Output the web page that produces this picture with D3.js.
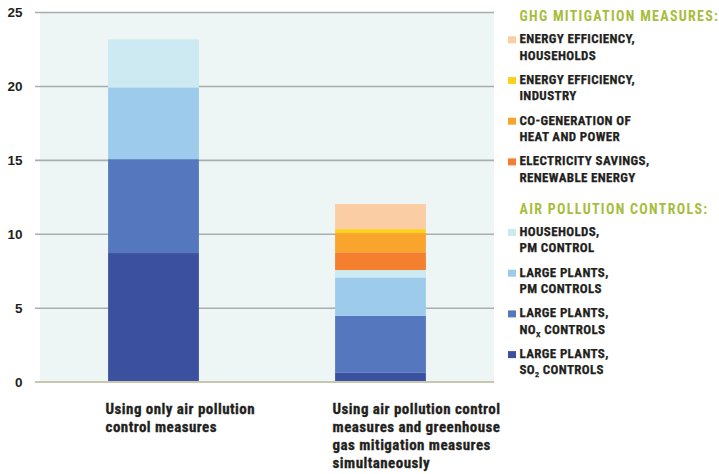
<!DOCTYPE html>
<html lang="en">
<head>
<meta charset="UTF-8">
<title>Emission reduction costs</title>
<script src="https://cdn.jsdelivr.net/npm/d3@7"></script>
<style>
  body { margin: 0; background: #fff; }
  svg { display: block; }
  .narrow { font-family: "Liberation Sans Narrow", "Arial Narrow", "Roboto Condensed", sans-serif; font-weight: bold; }
</style>
</head>
<body>
<div id="chart"></div>
<script>
const width = 719, height = 474;

// categories (x axis), each label split in lines as in the original
const categories = ["only", "combined"];
const categoryLines = [
  ["Using only air pollution", "control measures"],
  ["Using air pollution control", "measures and greenhouse", "gas mitigation measures", "simultaneously"]
];

// stack series, bottom to top
const seriesKeys = ["so2", "nox", "pmLarge", "pmHouse", "elec", "cogen", "eeInd", "eeHouse"];
const so2     = [8.7, 0.6];
const nox     = [6.35, 3.85];
const pmLarge = [4.85, 2.6];
const pmHouse = [3.25, 0.5];
const elec    = [0, 1.2];
const cogen   = [0, 1.3];
const eeInd   = [0, 0.27];
const eeHouse = [0, 1.7];

const yTicks = [0, 5, 10, 15, 20, 25];

const colors = {
  so2: "#3c50a0", nox: "#5577bd", pmLarge: "#9dcbec", pmHouse: "#cde9f1",
  elec: "#f47f2e", cogen: "#f9a42d", eeInd: "#fdd21c", eeHouse: "#fbcda4"
};

// legend groups (title + items, top to bottom)
const legendGroups = [
  { title: "GHG MITIGATION MEASURES:", items: [
    { key: "eeHouse", lines: [["ENERGY EFFICIENCY,"], ["HOUSEHOLDS"]] },
    { key: "eeInd",   lines: [["ENERGY EFFICIENCY,"], ["INDUSTRY"]] },
    { key: "cogen",   lines: [["CO-GENERATION OF"], ["HEAT AND POWER"]] },
    { key: "elec",    lines: [["ELECTRICITY SAVINGS,"], ["RENEWABLE ENERGY"]] }
  ]},
  { title: "AIR POLLUTION CONTROLS:", items: [
    { key: "pmHouse", lines: [["HOUSEHOLDS,"], ["PM CONTROL"]] },
    { key: "pmLarge", lines: [["LARGE PLANTS,"], ["PM CONTROLS"]] },
    { key: "nox",     lines: [["LARGE PLANTS,"], ["NO", "X", " CONTROLS"]] },
    { key: "so2",     lines: [["LARGE PLANTS,"], ["SO", "2", " CONTROLS"]] }
  ]}
];

const table = categories.map((c, i) => ({
  cat: c, so2: so2[i], nox: nox[i], pmLarge: pmLarge[i], pmHouse: pmHouse[i],
  elec: elec[i], cogen: cogen[i], eeInd: eeInd[i], eeHouse: eeHouse[i]
}));

const svg = d3.select("#chart").append("svg")
  .attr("width", width).attr("height", height);

const plotLeft = 40, plotRight = 494, gridLeft = 35;
const y = d3.scaleLinear().domain([0, 25]).range([381.7, 12]);
const x = d3.scaleBand().domain(categories).range([plotLeft, plotRight])
  .paddingInner(0.6).paddingOuter(0.3);

// plot background
svg.append("rect")
  .attr("x", plotLeft).attr("y", y(25))
  .attr("width", plotRight - plotLeft).attr("height", y(0) - y(25))
  .attr("fill", "#eef6f5");

// gridlines + tick labels
const yAxis = svg.append("g")
  .attr("transform", `translate(${gridLeft},0)`)
  .call(d3.axisRight(y).tickValues(yTicks).tickSize(plotRight - gridLeft).tickFormat(""));
yAxis.select(".domain").remove();
yAxis.selectAll(".tick line")
  .attr("stroke", d => d === 0 ? "#c6c8ad" : "#a9adad")
  .attr("stroke-width", 1.6);

svg.append("g").selectAll("text")
  .data(yTicks).join("text")
  .attr("x", 22.5).attr("y", d => y(d)).attr("dy", "0.36em")
  .attr("text-anchor", "end")
  .attr("font-family", "Arial, 'Liberation Sans', sans-serif")
  .attr("font-weight", "bold").attr("font-size", 13.5).attr("fill", "#231f20")
  .text(d => d);

// stacked bars
const stacked = d3.stack().keys(seriesKeys)(table);
svg.append("g").selectAll("g")
  .data(stacked).join("g")
  .attr("fill", d => colors[d.key])
  .selectAll("rect")
  .data(d => d.filter(s => s[1] - s[0] > 0))
  .join("rect")
  .attr("x", d => x(d.data.cat))
  .attr("width", x.bandwidth())
  .attr("y", d => y(d[1]))
  .attr("height", d => y(d[0]) - y(d[1]));

// zero line over bars
svg.append("line")
  .attr("x1", gridLeft).attr("x2", plotRight)
  .attr("y1", y(0)).attr("y2", y(0))
  .attr("stroke", "#c6c8ad").attr("stroke-width", 1.6);

// category labels
const catG = svg.append("g").attr("class", "narrow")
  .attr("font-size", 15).attr("letter-spacing", 0.45)
  .attr("fill", "#231f20").attr("stroke", "#231f20").attr("stroke-width", 0.3);
categories.forEach((c, i) => {
  catG.append("text")
    .attr("x", x(c) - 2.5).attr("y", 413.5)
    .selectAll("tspan").data(categoryLines[i]).join("tspan")
    .attr("x", x(c) - 2.5).attr("dy", (d, j) => j === 0 ? 0 : 18.3)
    .text(d => d);
});

// legend
const legend = svg.append("g").attr("class", "narrow");
const groupTops = [21.3, 214];
legendGroups.forEach((g, gi) => {
  const top = groupTops[gi];
  legend.append("text")
    .attr("x", 519.5).attr("y", top)
    .attr("font-size", 14).attr("fill", "#a8bd3e")
    .attr("letter-spacing", 1.3)
    .text(g.title);
  g.items.forEach((it, ii) => {
    const base = top + 22 + ii * 40.7;
    legend.append("rect")
      .attr("x", 508).attr("y", base - 7)
      .attr("width", 8).attr("height", 7)
      .attr("fill", colors[it.key]);
    const t = legend.append("text")
      .attr("font-size", 13).attr("letter-spacing", 0.35)
      .attr("fill", "#231f20").attr("stroke", "#231f20").attr("stroke-width", 0.25);
    it.lines.forEach((parts, li) => {
      const ly = base + li * 16.3;
      parts.forEach((p, pi) => {
        const ts = t.append("tspan").text(p);
        if (pi === 0) ts.attr("x", 519.5).attr("y", ly);
        if (parts.length > 1 && pi === 1) ts.attr("font-size", 8).attr("y", ly + 3);
        if (parts.length > 1 && pi === 2) ts.attr("y", ly);
      });
    });
  });
});
</script>
</body>
</html>
